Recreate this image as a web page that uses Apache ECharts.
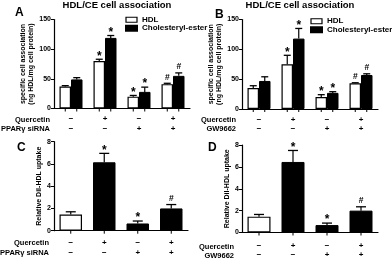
<!DOCTYPE html>
<html><head><meta charset="utf-8">
<script src="https://cdn.jsdelivr.net/npm/echarts@6/dist/echarts.min.js"></script>
<style>html,body{margin:0;padding:0;background:#fff}#c{width:392px;height:260px}</style>
</head><body><div id="c"></div>
<script>
// ---- data ----
const groups = ['1', '2', '3', '4'];
const quercetinRow = ['−', '+', '−', '+'];
const sirnaRow = ['−', '−', '+', '+'];
const gwRow = ['−', '−', '+', '+'];

const aHDL = [37, 80, 20, 41];
const aHDLErr = [1.5, 3, 2, 1.5];
const aHDLMark = ['', '*', '*', '#'];
const aCE = [49, 119, 28, 55];
const aCEErr = [3, 4, 8, 5];
const aCEMark = ['', '*', '*', '#'];

const bHDL = [35, 75, 20, 43];
const bHDLErr = [4, 15, 4, 1];
const bHDLMark = ['', '*', '*', '#'];
const bCE = [47, 118, 27, 57];
const bCEErr = [7, 17, 2, 2];
const bCEMark = ['', '*', '*', '#'];

const cVal = [1.45, 6.15, 0.65, 2.0];
const cErr = [0.25, 0.8, 0.22, 0.35];
const cMark = ['', '*', '*', '#'];

const dVal = [1.45, 6.45, 0.68, 2.0];
const dErr = [0.2, 1.05, 0.18, 0.35];
const dMark = ['', '*', '*', '#'];

// ---- chart ----
const FONT = '"Liberation Sans", Arial, sans-serif';
const chart = echarts.init(document.getElementById('c'), null, {renderer: 'canvas', width: 392, height: 260});

function errSeries(xi, vals, errs, marks, offset, cap) {
  return {
    type: 'custom', xAxisIndex: xi, yAxisIndex: xi, clip: false, silent: true, z: 5,
    data: vals.map((v, i) => [i, v, errs[i]]),
    encode: {x: 0, y: 1},
    renderItem: function (params, api) {
      const i = api.value(0), v = api.value(1), e = api.value(2);
      const top = api.coord([i, v]);
      const end = api.coord([i, v + e]);
      const base = api.coord([i, 0]);
      const x = top[0] + offset;
      const mark = marks[params.dataIndex];
      const children = [
        {type: 'line', shape: {x1: x, y1: top[1], x2: x, y2: end[1]}, style: {stroke: '#000', lineWidth: 1.2}},
        {type: 'line', shape: {x1: x - cap, y1: end[1], x2: x + cap, y2: end[1]}, style: {stroke: '#000', lineWidth: 1.3}},
        {type: 'line', shape: {x1: x, y1: base[1], x2: x, y2: base[1] + 3}, style: {stroke: '#000', lineWidth: 1}}
      ];
      if (mark === '*') {
        children.push({type: 'text', x: x, y: end[1] + 3,
          style: {text: mark, fill: '#000', fontSize: 12, fontWeight: 'bold', fontFamily: FONT, align: 'center', verticalAlign: 'bottom'}});
      } else if (mark) {
        children.push({type: 'text', x: x, y: end[1] - 1.5,
          style: {text: mark, fill: '#000', fontSize: 8.5, fontWeight: 'bold', fontFamily: FONT, align: 'center', verticalAlign: 'bottom'}});
      }
      return {type: 'group', children: children};
    }
  };
}

function xAxisFor(gi, row2, margin) {
  return {
    type: 'category', gridIndex: gi, data: groups,
    axisLine: {lineStyle: {color: '#000', width: 1.2}},
    axisTick: {show: false},
    axisLabel: {
      margin: margin, color: '#000', fontSize: 8, fontWeight: 'bold', fontFamily: FONT, lineHeight: 9.5,
      formatter: function (v, i) { return quercetinRow[i] + '\n' + row2[i]; }
    }
  };
}

function yAxisFor(gi, max, interval, name, gap) {
  return {
    type: 'value', gridIndex: gi, min: 0, max: max, interval: interval,
    name: name, nameLocation: 'middle', nameGap: gap, nameRotate: 90,
    nameTextStyle: {color: '#000', fontSize: 7, fontWeight: 'bold', fontFamily: FONT, lineHeight: 8},
    axisLine: {show: true, lineStyle: {color: '#000', width: 1.2}},
    axisTick: {show: true, length: 3, lineStyle: {color: '#000'}},
    splitLine: {show: false},
    axisLabel: {margin: 3, color: '#000', fontSize: 7, fontWeight: 'bold', fontFamily: FONT}
  };
}

const whiteBar = {color: '#fff', borderColor: '#000', borderWidth: 1.2};
const blackBar = {color: '#000', borderColor: '#000', borderWidth: 1};

function legendFor(left, top) {
  return {
    orient: 'vertical', left: left, top: top, itemWidth: 11, itemHeight: 5, itemGap: 0, padding: 0,
    selectedMode: false, icon: 'rect',
    textStyle: {color: '#000', fontSize: 8, fontWeight: 'bold', fontFamily: FONT, lineHeight: 8.5},
    data: [
      {name: 'HDL', itemStyle: whiteBar},
      {name: 'Cholesteryl-ester', itemStyle: {color: '#000'}}
    ]
  };
}

function rowLabel(x, y, t) {
  return {type: 'text', x: x, y: y, style: {text: t, fill: '#000', fontSize: 7.5, fontWeight: 'bold', fontFamily: FONT, align: 'right', verticalAlign: 'middle'}};
}
function letter(x, y, t) {
  return {type: 'text', x: x, y: y, style: {text: t, fill: '#000', fontSize: 12, fontWeight: 'bold', fontFamily: FONT, align: 'left', verticalAlign: 'top'}};
}

const topName = 'specific cell association\n(ng HDL/mg cell protein)';
const botName = 'Relative DiI-HDL uptake';

const option = {
  animation: false,
  backgroundColor: '#fff',
  title: [
    {text: 'HDL/CE cell association', left: 117, top: 0, textAlign: 'center', padding: 0,
     textStyle: {color: '#000', fontSize: 9.5, fontWeight: 'bold', fontFamily: FONT}},
    {text: 'HDL/CE cell association', left: 300, top: 0, textAlign: 'center', padding: 0,
     textStyle: {color: '#000', fontSize: 9.5, fontWeight: 'bold', fontFamily: FONT}}
  ],
  legend: [legendFor(125, 15.5), legendFor(310, 17)],
  grid: [
    {left: 54, top: 19.5, width: 136, height: 89},
    {left: 242, top: 19.5, width: 136, height: 89.5},
    {left: 54, top: 141.7, width: 134, height: 89},
    {left: 242, top: 145, width: 136, height: 89}
  ],
  xAxis: [
    xAxisFor(0, sirnaRow, 6),
    xAxisFor(1, gwRow, 6),
    xAxisFor(2, sirnaRow, 7.5),
    xAxisFor(3, gwRow, 8.5)
  ],
  yAxis: [
    yAxisFor(0, 150, 50, topName, 17),
    yAxisFor(1, 150, 50, topName, 17),
    yAxisFor(2, 8, 2, botName, 8),
    yAxisFor(3, 8, 2, botName, 8)
  ],
  graphic: [
    letter(15, 7, 'A'), letter(215, 9, 'B'), letter(17, 142, 'C'), letter(208, 142, 'D'),
    rowLabel(50, 119.5, 'Quercetin'), rowLabel(50, 129, 'PPARγ siRNA'),
    rowLabel(236, 119.5, 'Quercetin'), rowLabel(236, 129, 'GW9662'),
    rowLabel(49, 243, 'Quercetin'), rowLabel(49, 252.5, 'PPARγ siRNA'),
    rowLabel(234, 247.3, 'Quercetin'), rowLabel(234, 256, 'GW9662')
  ],
  series: [
    {type: 'bar', name: 'HDL', xAxisIndex: 0, yAxisIndex: 0, data: aHDL, barWidth: 11.5, barGap: '0%', itemStyle: whiteBar},
    {type: 'bar', name: 'Cholesteryl-ester', xAxisIndex: 0, yAxisIndex: 0, data: aCE, barWidth: 11.5, barGap: '0%', itemStyle: blackBar},
    errSeries(0, aHDL, aHDLErr, aHDLMark, -5.75, 3.5),
    errSeries(0, aCE, aCEErr, aCEMark, 5.75, 3.5),
    {type: 'bar', name: 'HDL', xAxisIndex: 1, yAxisIndex: 1, data: bHDL, barWidth: 11.5, barGap: '0%', itemStyle: whiteBar},
    {type: 'bar', name: 'Cholesteryl-ester', xAxisIndex: 1, yAxisIndex: 1, data: bCE, barWidth: 11.5, barGap: '0%', itemStyle: blackBar},
    errSeries(1, bHDL, bHDLErr, bHDLMark, -5.75, 3.5),
    errSeries(1, bCE, bCEErr, bCEMark, 5.75, 3.5),
    {type: 'bar', name: 'uptakeC', xAxisIndex: 2, yAxisIndex: 2, barWidth: 22.5,
     data: cVal.map((v, i) => ({value: v, itemStyle: i === 0 ? whiteBar : blackBar}))},
    errSeries(2, cVal, cErr, cMark, 0, 5),
    {type: 'bar', name: 'uptakeD', xAxisIndex: 3, yAxisIndex: 3, barWidth: 23,
     data: dVal.map((v, i) => ({value: v, itemStyle: i === 0 ? whiteBar : blackBar}))},
    errSeries(3, dVal, dErr, dMark, 0, 5)
  ]
};
chart.setOption(option);
</script>
</body></html>
